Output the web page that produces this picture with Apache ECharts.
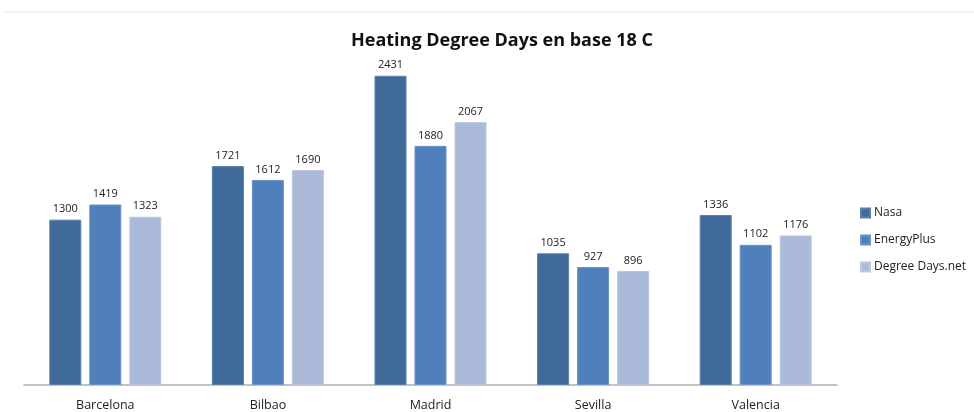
<!DOCTYPE html>
<html>
<head>
<meta charset="utf-8">
<script src="https://cdn.jsdelivr.net/npm/echarts@6/dist/echarts.min.js"></script>
<style>
  html, body { margin: 0; padding: 0; background: #fff; }
  #main { width: 974px; height: 412px; }
</style>
</head>
<body>
<div id="main"></div>
<script>
const cities = ['Barcelona', 'Bilbao', 'Madrid', 'Sevilla', 'Valencia'];
const nasa = [1300, 1721, 2431, 1035, 1336];
const energyPlus = [1419, 1612, 1880, 927, 1102];
const degreeDays = [1323, 1690, 2067, 896, 1176];

const chart = echarts.init(document.getElementById('main'));

const labelStyle = {
  show: true,
  position: 'top',
  distance: 5,
  color: '#222',
  fontFamily: 'Open Sans',
  fontSize: 11
};

function barSeries(name, data, color, border) {
  return {
    name: name,
    type: 'bar',
    data: data,
    barWidth: 32,
    barGap: '25%',
    itemStyle: { color: color, borderColor: border, borderWidth: 1 },
    label: labelStyle
  };
}

chart.setOption({
  animation: false,
  title: {
    text: 'Heating Degree Days en base 18 C',
    left: 497,
    textAlign: 'center',
    top: 27,
    textStyle: { fontFamily: 'Open Sans', fontWeight: 'bold', fontSize: 18, color: '#111' }
  },
  graphic: [{
    type: 'line',
    shape: { x1: 5, y1: 12, x2: 974, y2: 12 },
    style: { stroke: '#e2e2e2', lineWidth: 1 }
  }],
  legend: {
    orient: 'vertical',
    left: 858,
    top: 202,
    padding: [5, 0, 5, 2],
    itemWidth: 9,
    itemHeight: 9,
    itemGap: 15,
    icon: 'rect',
    textStyle: { fontFamily: 'Open Sans', fontSize: 12, color: '#222', padding: [0, 0, 0, -1] },
    data: ['Nasa', 'EnergyPlus', 'Degree Days.net']
  },
  grid: { left: 24, right: 137, top: 67, bottom: 26 },
  xAxis: {
    type: 'category',
    data: cities,
    axisLine: { lineStyle: { color: '#b0b0b0', width: 1.5 } },
    axisTick: { show: false },
    axisLabel: { color: '#222', fontFamily: 'Open Sans', fontSize: 12.5, margin: 14 }
  },
  yAxis: {
    type: 'value',
    min: 0,
    max: 2500,
    show: false,
    splitLine: { show: false }
  },
  series: [
    barSeries('Nasa', nasa, '#406a9a', '#5a7fab'),
    barSeries('EnergyPlus', energyPlus, '#4f80bc', '#6a93c6'),
    barSeries('Degree Days.net', degreeDays, '#abbad8', '#bcc8e0')
  ]
});
</script>
</body>
</html>
